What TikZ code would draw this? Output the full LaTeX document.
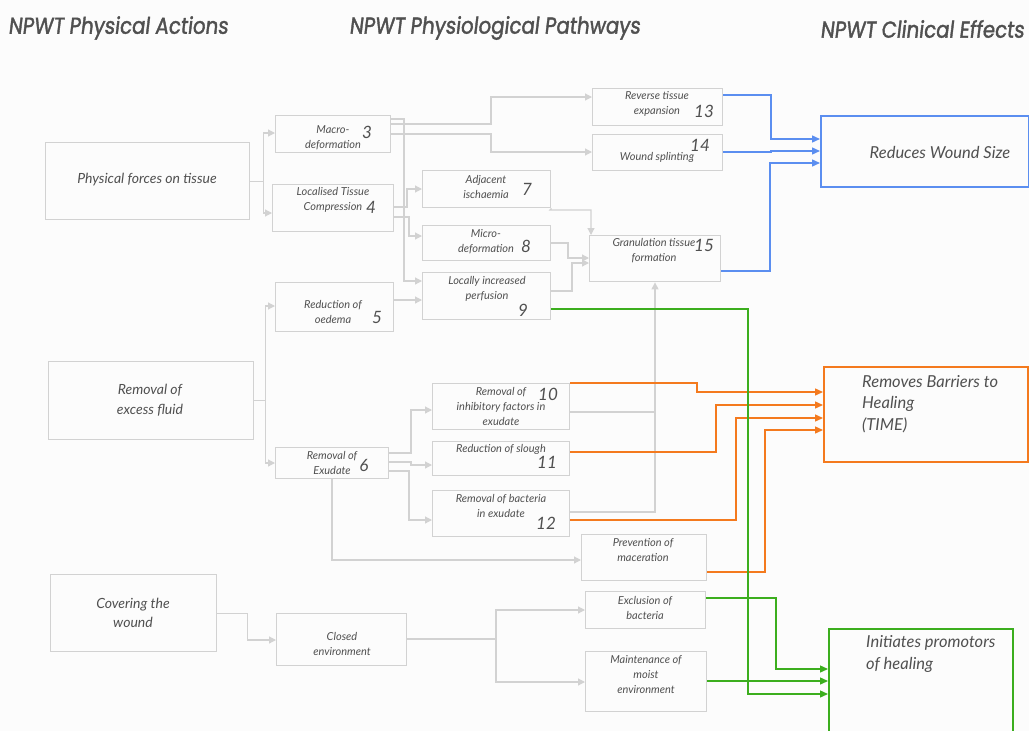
\documentclass[tikz,border=0pt]{standalone}
\usepackage{fontspec}
\usetikzlibrary{arrows.meta}
\newfontfamily\hdrfont{Poppins}[FakeStretch=0.86, FakeBold=1.6, FakeSlant=0.12]
\newfontfamily\bodyfont{Lato}
\definecolor{bg}{HTML}{FCFCFC}
\definecolor{txt}{HTML}{505050}
\definecolor{lgray}{HTML}{D2D2D2}
\definecolor{bblue}{HTML}{5B8EF0}
\definecolor{borange}{HTML}{F47A1E}
\definecolor{bgreen}{HTML}{3CAE1E}
\tikzset{
  box/.style={draw=lgray, line width=1.4pt, rectangle, inner sep=0pt, anchor=north west},
  bigbox/.style={rectangle, line width=2pt, inner sep=0pt, anchor=north west},
  t/.style={font=\bodyfont\itshape\fontsize{11}{15}\selectfont, text=txt, align=center, inner sep=0pt},
  tl/.style={font=\bodyfont\itshape\fontsize{14}{19.5}\selectfont, text=txt, align=center, inner sep=0pt},
  tr/.style={font=\bodyfont\itshape\fontsize{16.5}{21.5}\selectfont, text=txt, align=left, inner sep=0pt, anchor=west},
  num/.style={font=\bodyfont\itshape\fontsize{17}{17}\selectfont, text=txt, inner sep=0pt},
  hdr/.style={font=\hdrfont\fontsize{23}{26}\selectfont, text=txt, inner sep=0pt, anchor=west},
  gl/.style={draw=lgray, line width=1.2pt},
  ga/.style={gl, -{Triangle[length=7pt,width=7pt]}},
  ba/.style={draw=bblue, line width=1.4pt, -{Triangle[length=8pt,width=7pt]}},
  oa/.style={draw=borange, line width=1.4pt, -{Triangle[length=8pt,width=7pt]}},
  gra/.style={draw=bgreen, line width=1.4pt, -{Triangle[length=8pt,width=7pt]}}
}
\begin{document}
\begin{tikzpicture}[x=1pt,y=-1pt]
\fill[bg] (0,0) rectangle (1029,731);
\useasboundingbox (0,0) rectangle (1029,731);
\clip (0,0) rectangle (1029,731);

% headers
\node[hdr] (h1) at (8,28) {NPWT Physical Actions};
\node[hdr] (h2) at (349,28) {NPWT Physiological Pathways};
\node[hdr] (h3) at (820,29) {NPWT Clinical Effects};

% boxes
\node[box, minimum width=204pt, minimum height=77pt] (phys) at (45,142) {};
\node[box, minimum width=205pt, minimum height=78pt] (fluid) at (48,361) {};
\node[box, minimum width=166pt, minimum height=77pt] (cover) at (50,574) {};
\node[box, minimum width=115pt, minimum height=37pt] (m3) at (275,115) {};
\node[box, minimum width=121pt, minimum height=47pt] (c4) at (272,184) {};
\node[box, minimum width=118pt, minimum height=49pt] (o5) at (275,282) {};
\node[box, minimum width=113pt, minimum height=31pt] (e6) at (275,447) {};
\node[box, minimum width=128pt, minimum height=37pt] (a7) at (422,170) {};
\node[box, minimum width=128pt, minimum height=35pt] (d8) at (422,225) {};
\node[box, minimum width=128pt, minimum height=47pt] (p9) at (422,272) {};
\node[box, minimum width=137pt, minimum height=46pt] (r10) at (432,383) {};
\node[box, minimum width=137pt, minimum height=34pt] (s11) at (432,441) {};
\node[box, minimum width=137pt, minimum height=46pt] (b12) at (432,490) {};
\node[box, minimum width=125pt, minimum height=46pt] (mac) at (581,534) {};
\node[box, minimum width=120pt, minimum height=37pt] (exc) at (585,591) {};
\node[box, minimum width=121pt, minimum height=60pt] (moi) at (585,651) {};
\node[box, minimum width=130pt, minimum height=52pt] (env) at (276,613) {};
\node[box, minimum width=130pt, minimum height=37pt] (r13) at (592,88) {};
\node[box, minimum width=130pt, minimum height=36pt] (w14) at (592,134) {};
\node[box, minimum width=131pt, minimum height=46pt] (g15) at (589,235) {};
\node[bigbox, draw=bblue, minimum width=208pt, minimum height=71pt] (RWS) at (820,115) {};
\node[bigbox, draw=borange, minimum width=204pt, minimum height=95pt] (RB) at (823,366) {};
\node[bigbox, draw=bgreen, minimum width=184pt, minimum height=120pt] (IP) at (828,628) {};

% texts
\node[tl] (tphys) at (147,180) {Physical forces on tissue};
\node[tl] (tfluid) at (150,400) {Removal of\\excess fluid};
\node[tl] (tcover) at (133,613) {Covering the\\wound};
\node[t] (t3) at (333,138) {Macro-\\deformation};
\node[num] (n3) at (367,132) {3};
\node[t] (t4) at (333,200) {Localised Tissue\\Compression};
\node[num] (n4) at (371,207) {4};
\node[t] (t5) at (333,312) {Reduction of\\oedema};
\node[num] (n5) at (377,317) {5};
\node[t] (t6) at (332,463) {Removal of\\Exudate};
\node[num] (n6) at (364,465) {6};
\node[t] (t7) at (486,187) {Adjacent\\ischaemia};
\node[num] (n7) at (527,189) {7};
\node[t] (t8) at (486,242) {Micro-\\deformation};
\node[num] (n8) at (526,246) {8};
\node[t] (t9) at (487,289) {Locally increased\\perfusion};
\node[num] (n9) at (523,310) {9};
\node[t] (t10) at (501,406) {Removal of\\inhibitory factors in\\exudate};
\node[num] (n10) at (548,394) {10};
\node[t] (t11) at (501,449) {Reduction of slough};
\node[num] (n11) at (547,462) {11};
\node[t] (t12) at (501,506) {Removal of bacteria\\in exudate};
\node[num] (n12) at (546,523) {12};
\node[t] (tmac) at (643,550) {Prevention of\\maceration};
\node[t] (texc) at (645,608) {Exclusion of\\bacteria};
\node[t] (tmoi) at (646,675) {Maintenance of\\moist\\environment};
\node[t] (tenv) at (342,644) {Closed\\environment};
\node[t] (t13) at (657,104) {Reverse tissue\\expansion};
\node[num] (n13) at (704,111) {13};
\node[t] (t14) at (657,157) {Wound splinting};
\node[num] (n14) at (700,145) {14};
\node[t] (t15) at (654,251) {Granulation tissue\\formation};
\node[num] (n15) at (704,245) {15};
\node[tr, anchor=center] (tRWS) at (940,152) {Reduces Wound Size};
\node[tr] (tRB) at (862,404) {Removes Barriers to\\Healing\\(TIME)};
\node[tr] (tIP) at (866,654) {Initiates promotors\\of healing};

% gray connectors
\draw[ga] (phys.east) -- ++(13,0) |- (m3.west |- 0,133);
\draw[ga] (phys.east) -- ++(13,0) |- (c4.west |- 0,213);
\draw[ga] (fluid.east) -- ++(11,0) |- (o5.west |- 0,306);
\draw[ga] (fluid.east) -- ++(11,0) |- (e6.west |- 0,463);
\draw[ga] (cover.east) -- ++(30,0) |- (env.west |- 0,640);
\draw[ga] (m3.east |- 0,124) -- (491,124) -- (491,97) -- (r13.west |- 0,97);
\draw[ga] (m3.east |- 0,134) -- (491,134) -- (491,152) -- (w14.west |- 0,152);
\draw[ga] (m3.east |- 0,119) -- (404,119) -- (404,281) -- (p9.west |- 0,281);
\draw[ga] (c4.east |- 0,207) -- (407,207) -- (407,189) -- (a7.west |- 0,189);
\draw[ga] (c4.east |- 0,217) -- (409,217) -- (409,236) -- (d8.west |- 0,236);
\draw[ga] (o5.east |- 0,300) -- (p9.west |- 0,300);
\draw[ga] (a7.south east) -- (550,210) -- (591,210) -- (g15.north -| 591,0);
\draw[ga] (d8.east |- 0,243) -- (568,243) -- (568,258) -- (g15.west |- 0,258);
\draw[ga] (p9.east |- 0,291) -- (572,291) -- (572,263) -- (g15.west |- 0,263);
\draw[gl] (r10.east |- 0,412) -- (655,412);
\draw[ga] (b12.east |- 0,512) -- (655,512) -- (g15.south -| 655,0);
\draw[ga] (e6.east |- 0,453) -- (411,453) -- (411,410) -- (r10.west |- 0,410);
\draw[ga] (e6.east |- 0,462) -- (411,462) -- (411,465) -- (s11.west |- 0,465);
\draw[ga] (e6.east |- 0,471) -- (409,471) -- (409,520) -- (b12.west |- 0,520);
\draw[ga] (e6.south -| 332,0) -- (332,560) -- (mac.west |- 0,560);
\draw[ga] (env.east |- 0,639) -- (496,639) -- (496,610) -- (exc.west |- 0,610);
\draw[ga] (env.east |- 0,639) -- (496,639) -- (496,682) -- (moi.west |- 0,682);

% blue
\draw[ba] (r13.east |- 0,95) -- (771,95) -- (771,139) -- (RWS.west |- 0,139);
\draw[ba] (w14.east |- 0,152) -- (771,152) -- (771,151) -- (RWS.west |- 0,151);
\draw[ba] (g15.east |- 0,271) -- (770,271) -- (770,163) -- (RWS.west |- 0,163);
% orange
\draw[oa] (r10.east |- 0,383) -- (697,383) -- (697,392) -- (RB.west |- 0,392);
\draw[oa] (s11.east |- 0,452) -- (716,452) -- (716,405) -- (RB.west |- 0,405);
\draw[oa] (b12.east |- 0,520) -- (736,520) -- (736,418) -- (RB.west |- 0,418);
\draw[oa] (mac.east |- 0,572) -- (765,572) -- (765,430) -- (RB.west |- 0,430);
% green
\draw[gra] (p9.east |- 0,309) -- (748,309) -- (748,694) -- (IP.west |- 0,694);
\draw[gra] (exc.east |- 0,598) -- (776,598) -- (776,669) -- (IP.west |- 0,669);
\draw[gra] (moi.east |- 0,681) -- (IP.west |- 0,681);
\end{tikzpicture}
\end{document}
